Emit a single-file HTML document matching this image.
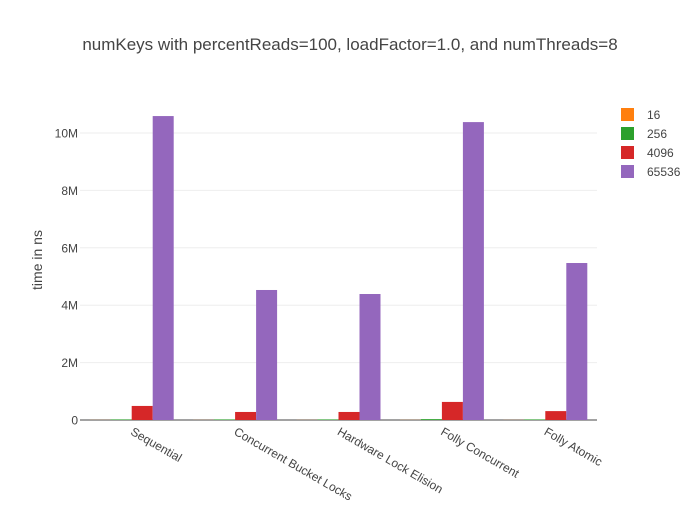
<!DOCTYPE html>
<html><head><meta charset="utf-8">
<style>
body{margin:0;background:#fff;font-family:"Liberation Sans",sans-serif;}
svg text{font-family:"Liberation Sans",sans-serif;fill:#444;}
</style></head>
<body>
<svg id="chart" width="700" height="500">
<text x="350" y="50" text-anchor="middle" font-size="17">numKeys with percentReads=100, loadFactor=1.0, and numThreads=8</text>
<g id="grid"></g><g id="bars"></g><g id="xlabels"></g><g id="ylabels"></g>
<text transform="translate(42,260) rotate(-90)" text-anchor="middle" font-size="14">time in ns</text>
<g id="legend"></g>
</svg>
<script>
const categories=["Sequential","Concurrent Bucket Locks","Hardware Lock Elision","Folly Concurrent","Folly Atomic"];
const seriesNames=["16","256","4096","65536"];
const s16=[3000,3000,3000,4000,3000];
const s256=[20000,20000,20000,30000,20000];
const s4096=[490000,280000,280000,630000,310000];
const s65536=[10590000,4530000,4390000,10380000,5470000];
const yTicks=[0,2e6,4e6,6e6,8e6,10e6];
const yTickLabels=["0","2M","4M","6M","8M","10M"];
const colors=["#ff7f0e","#2ca02c","#d62728","#9467bd"];
const series=[s16,s256,s4096,s65536];
const L=80,R=597,T=80,B=420;
const y=v=>B-v*(287/10e6);
const gw=(R-L)/categories.length;
const xc=i=>L+gw*(i+0.5);
const bw=21;
const NS="http://www.w3.org/2000/svg";
function mk(tag,attrs,parent){const e=document.createElementNS(NS,tag);for(const k in attrs)e.setAttribute(k,attrs[k]);document.getElementById(parent).appendChild(e);return e;}
yTicks.forEach((t,i)=>{
 if(i>0){const g=mk("line",{x1:L,x2:R,y1:y(t),y2:y(t),stroke:"#eee"},"grid");
 
 }
 const tx=mk("text",{x:L-2,y:y(t)+4.5,"text-anchor":"end","font-size":12},"ylabels");
 tx.textContent=yTickLabels[i];
 
 
});
series.forEach((s,si)=>{
 s.forEach((v,i)=>{
  const x0=xc(i)-2*bw+si*bw;
  const r=mk("rect",{x:x0,y:y(v),width:bw,height:B-y(v),fill:colors[si]},"bars");
  
  
 });
});
const ax=mk("line",{x1:L,x2:R,y1:B,y2:B,stroke:"#444"},"grid");


categories.forEach((c,i)=>{
 const t=mk("text",{x:0,y:0,"font-size":12,transform:`translate(${xc(i)-2},${B+14}) rotate(30)`},"xlabels");
 t.textContent=c;
 
 
});
seriesNames.forEach((n,i)=>{
 const r=mk("rect",{x:621,y:108+i*19,width:13,height:13,fill:colors[i]},"legend");
 
 
 const t=mk("text",{x:647,y:119+i*19,"font-size":12},"legend");
 t.textContent=n;
 
 
});
</script>
</body></html>
